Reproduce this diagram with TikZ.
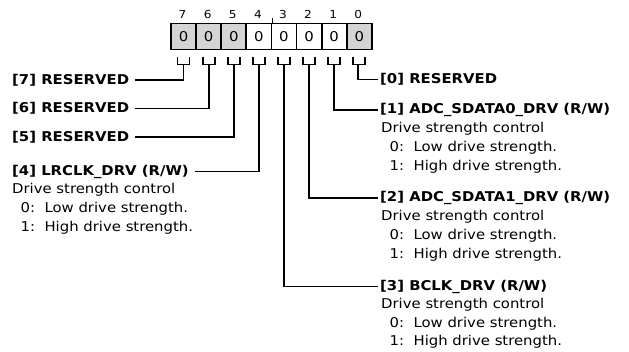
\documentclass[tikz,border=0pt]{standalone}
\usepackage{fontspec}
\setmainfont{DejaVu Sans}[FakeStretch=1.1]
\definecolor{cellgray}{RGB}{212,212,212}
\begin{document}
\begin{tikzpicture}[x=1pt,y=-1pt,
  cell/.style={draw, line width=1.8pt, minimum width=25.1pt, minimum height=26pt, inner sep=0pt, font=\fontsize{13.5}{16}\selectfont},
  grayc/.style={cell, fill=cellgray},
  whitec/.style={cell, fill=white},
  bitnum/.style={inner sep=0pt, font=\fontsize{11}{13}\selectfont},
  ttl/.style={inner sep=0pt, anchor=west, font=\fontsize{13.5}{16}\selectfont\bfseries},
  dsc/.style={inner sep=0pt, anchor=west, font=\fontsize{13.5}{16}\selectfont},
  wire/.style={line width=1.8pt}]
\useasboundingbox (0,0) rectangle (629,351);
% register cells
\node[grayc]  (c7) at (183.55,36.5) {0};
\node[grayc]  (c6) at (208.65,36.5) {0};
\node[grayc]  (c5) at (233.75,36.5) {0};
\node[whitec] (c4) at (258.85,36.5) {0};
\node[whitec] (c3) at (283.95,36.5) {0};
\node[whitec] (c2) at (309.05,36.5) {0};
\node[whitec] (c1) at (334.15,36.5) {0};
\node[grayc]  (c0) at (359.25,36.5) {0};
% bit numbers
\foreach \b in {7,6,5,4,3,2,1,0}{
  \node[bitnum] (n\b) at ([xshift=-1pt,yshift=22pt]c\b.center) {\b};
}
% middle tick
\coordinate (tk) at (c4.north east);
\draw[line width=1.3pt] (tk) -- ++(0,-5);
% U brackets
\foreach \b in {7,6,5,4,3,2,1,0}{
  \draw[wire] ([xshift=-6pt,yshift=-6.5pt]c\b.south) -- ++(0,7.5) -- ++(12,0) -- ++(0,-7.5);
}
% left labels
\node[ttl] (l7) at (12,80) {[7] RESERVED};
\node[ttl] (l6) at (12,108.5) {[6] RESERVED};
\node[ttl] (l5) at (12,137) {[5] RESERVED};
\node[ttl] (l4) at (12,171.5) {[4] LRCLK\_DRV (R/W)};
\node[dsc] (l4a) at (12,190) {Drive strength control};
\node[dsc] (l4b) at (12,209) {\hspace*{8.5pt}0:\ \ Low drive strength.};
\node[dsc] (l4c) at (12,228) {\hspace*{8.5pt}1:\ \ High drive strength.};
% right labels
\node[ttl] (r0) at (380,79.5) {[0] RESERVED};
\node[ttl] (r1) at (380,110) {[1] ADC\_SDATA0\_DRV (R/W)};
\node[dsc] (r1a) at (381,128.5) {Drive strength control};
\node[dsc] (r1b) at (381,147.5) {\hspace*{8.5pt}0:\ \ Low drive strength.};
\node[dsc] (r1c) at (381,166.5) {\hspace*{8.5pt}1:\ \ High drive strength.};
\node[ttl] (r2) at (380,198) {[2] ADC\_SDATA1\_DRV (R/W)};
\node[dsc] (r2a) at (381,217) {Drive strength control};
\node[dsc] (r2b) at (381,236) {\hspace*{8.5pt}0:\ \ Low drive strength.};
\node[dsc] (r2c) at (381,255) {\hspace*{8.5pt}1:\ \ High drive strength.};
\node[ttl] (r3) at (380,286.5) {[3] BCLK\_DRV (R/W)};
\node[dsc] (r3a) at (381,304.5) {Drive strength control};
\node[dsc] (r3b) at (381,323.5) {\hspace*{8.5pt}0:\ \ Low drive strength.};
\node[dsc] (r3c) at (381,342) {\hspace*{8.5pt}1:\ \ High drive strength.};
% connectors
\draw[wire] ([yshift=-14pt]c7.south) |- ([xshift=6pt]l7.east);
\draw[wire] ([yshift=-14pt]c6.south) |- ([xshift=6pt]l6.east);
\draw[wire] ([yshift=-14pt]c5.south) |- ([xshift=6pt]l5.east);
\draw[wire] ([yshift=-14pt]c4.south) |- ([xshift=6pt]l4.east);
\draw[wire] ([yshift=-14pt]c3.south) |- ([xshift=-2pt]r3.west);
\draw[wire] ([yshift=-14pt]c2.south) |- ([xshift=-2pt]r2.west);
\draw[wire] ([yshift=-14pt]c1.south) |- ([xshift=-2pt]r1.west);
\draw[wire] ([xshift=-1.5pt,yshift=-14pt]c0.south) |- ([xshift=-2pt]r0.west);
\end{tikzpicture}
\end{document}
